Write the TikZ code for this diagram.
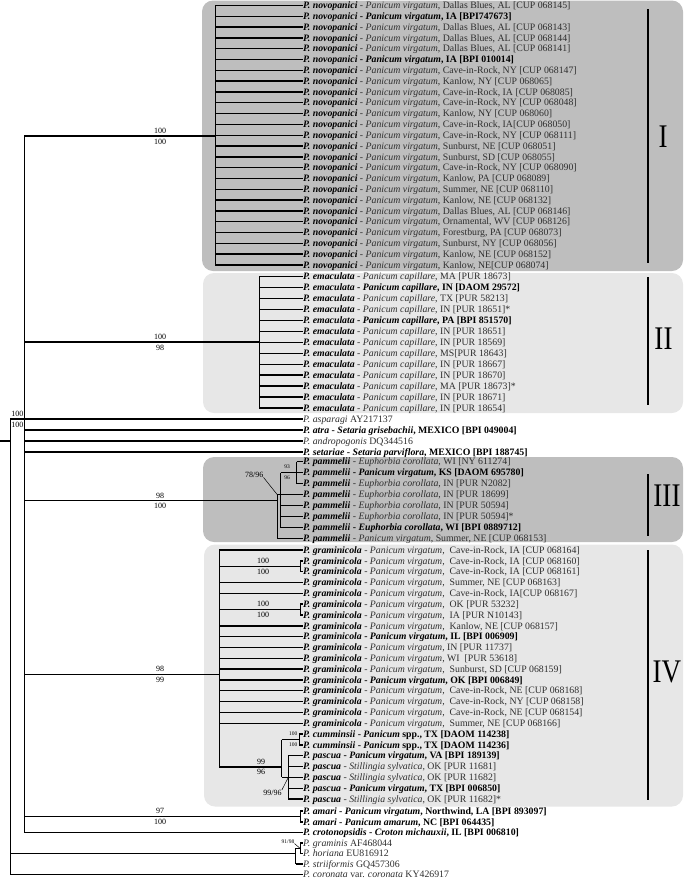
\documentclass[tikz,border=0pt]{standalone}
\usepackage{fontspec}
\setmainfont{Liberation Serif}
\usepackage{graphicx}
\usepackage{tikz}
\usetikzlibrary{positioning}

\definecolor{cladedark}{gray}{0.745}
\definecolor{cladelight}{gray}{0.905}
\definecolor{txtgray}{gray}{0.18}

\tikzset{
    % shaded background of a clade
    cladebox/.style={rounded corners=11pt},
    % terminal labels, text starts right at the branch tip
    taxon/.style={anchor=west, inner sep=0pt, text height=6.4pt, text depth=0pt,
        font=\fontsize{9.8}{10}\selectfont},
    % horizontal branches (thick) and vertical connectors (thin)
    branch/.style={line width=1.4pt},
    vline/.style={line width=0.7pt},
    % support values on the branches
    supp/.style={inner sep=0pt, font=\fontsize{8}{8}\selectfont},
    suppsmall/.style={inner sep=0pt, font=\fontsize{5.5}{6}\selectfont},
    pointer/.style={line width=0.5pt},
    % clade bars and roman numerals
    cladebar/.style={line width=2.4pt},
    cladenum/.style={inner sep=0pt, font=\fontsize{33}{33}\selectfont},
}
% taxon labels: plain (species bold), all bold, outgroup
\newcommand{\taxn}[3]{\textbf{\textit{#1}} \textcolor{txtgray}{- \textit{#2}, #3}}
\newcommand{\taxb}[3]{\textbf{\textit{#1} - \textit{#2}, #3}}
\newcommand{\taxo}[2]{\textcolor{txtgray}{\textit{#1} #2}}
\newcommand{\novo}[1]{\taxn{P. novopanici}{Panicum virgatum}{#1}}
\newcommand{\novob}[1]{\taxb{P. novopanici}{Panicum virgatum}{#1}}
\newcommand{\emac}[1]{\taxn{P. emaculata}{Panicum capillare}{#1}}
\newcommand{\emacb}[1]{\taxb{P. emaculata}{Panicum capillare}{#1}}
\newcommand{\pamm}[2]{\taxn{P. pammelii}{#1}{#2}}
\newcommand{\gramin}[1]{\taxn{P. graminicola}{Panicum virgatum}{#1}}
\newcommand{\cumm}[1]{\textbf{\textit{P. cumminsii} - \textit{Panicum} spp., TX [DAOM #1]}}
\newcommand{\cladeno}[1]{\scalebox{0.82}[1]{#1}}

\begin{document}
\begin{tikzpicture}[x=1pt, y=-1pt]
    \useasboundingbox (0,0) rectangle (685,879);

    % ---- clade shading ----
    \fill[cladedark, cladebox]  (202,0.5) rectangle (683,271);
    \fill[cladelight, cladebox] (203,273) rectangle (683,413);
    \fill[cladedark, cladebox]  (203,457) rectangle (683,542);
    \fill[cladelight, cladebox] (204,544.5) rectangle (683,806.5);

    % ---- internal nodes ----
    \coordinate (base) at (0,441);
    \coordinate (root) at (10,441);
    \coordinate (nA)   at (24,419);
    \coordinate (nI)   at (215,136);
    \coordinate (nII)  at (259,342);
    \coordinate (nIII) at (277.3,500.7);
    \coordinate (nB)   at (280.7,494.7);
    \coordinate (nC)   at (296.7,472.7);
    \coordinate (nIV)  at (219,674.5);
    \coordinate (nP1)  at (300,566.25);
    \coordinate (nP2)  at (300,609.6);
    \coordinate (nD)   at (281.7,767);
    \coordinate (nCu)  at (299,739.5);
    \coordinate (nPa)  at (288.3,777.4);
    \coordinate (nAm)  at (300,816.5);
    \coordinate (nG)   at (295.7,853.5);
    \coordinate (nGH)  at (300,848.25);

    % ---- clade I ----
    \foreach \lab [count=\i from 0] in {
        {\novo{Dallas Blues, AL [CUP 068145]}}, {\novob{IA [BPI747673]}},
        {\novo{Dallas Blues, AL [CUP 068143]}}, {\novo{Dallas Blues, AL [CUP 068144]}},
        {\novo{Dallas Blues, AL [CUP 068141]}}, {\novob{IA [BPI 010014]}},
        {\novo{Cave-in-Rock, NY [CUP 068147]}}, {\novo{Kanlow, NY [CUP 068065]}},
        {\novo{Cave-in-Rock, IA [CUP 068085]}}, {\novo{Cave-in-Rock, NY [CUP 068048]}},
        {\novo{Kanlow, NY [CUP 068060]}}, {\novo{Cave-in-Rock, IA[CUP 068050]}},
        {\novo{Cave-in-Rock, NY [CUP 068111]}}, {\novo{Sunburst, NE [CUP 068051]}},
        {\novo{Sunburst, SD [CUP 068055]}}, {\novo{Cave-in-Rock, NY [CUP 068090]}},
        {\novo{Kanlow, PA [CUP 068089]}}, {\novo{Summer, NE [CUP 068110]}},
        {\novo{Kanlow, NE [CUP 068132]}}, {\novo{Dallas Blues, AL [CUP 068146]}},
        {\novo{Ornamental, WV [CUP 068126]}}, {\novo{Forestburg, PA [CUP 068073]}},
        {\novo{Sunburst, NY [CUP 068056]}}, {\novo{Kanlow, NE [CUP 068152]}},
        {\novo{Kanlow, NE[CUP 068074]}}}{
        \node[taxon] (I\i) at (303,5.5+\i*10.81) {\lab};
        \draw[branch] (nI |- I\i.west) -- (I\i.west);
    }
    \draw[vline] (nI |- I0.west) -- (nI |- I24.west);

    % ---- clade II ----
    \foreach \lab [count=\i from 0] in {
        {\emac{MA [PUR 18673]}}, {\emacb{IN [DAOM 29572]}}, {\emac{TX [PUR 58213]}},
        {\emac{IN [PUR 18651]*}}, {\emacb{PA [BPI 851570]}}, {\emac{IN [PUR 18651]}},
        {\emac{IN [PUR 18569]}}, {\emac{MS[PUR 18643]}}, {\emac{IN [PUR 18667]}},
        {\emac{IN [PUR 18670]}}, {\emac{MA [PUR 18673]*}}, {\emac{IN [PUR 18671]}},
        {\emac{IN [PUR 18654]}}}{
        \node[taxon] (II\i) at (303,276.7+\i*10.94) {\lab};
        \draw[branch] (nII |- II\i.west) -- (II\i.west);
    }
    \draw[vline] (nII |- II0.west) -- (nII |- II12.west);

    % ---- single lineages ----
    \node[taxon] (asp)  at (303,419) {\taxo{P. asparagi}{AY217137}};
    \node[taxon] (atra) at (303,430) {\taxb{P. atra}{Setaria grisebachii}{MEXICO [BPI 049004]}};
    \node[taxon] (andr) at (303,441) {\taxo{P. andropogonis}{DQ344516}};
    \node[taxon] (set)  at (303,452) {\taxb{P. setariae}{Setaria parviflora}{MEXICO [BPI 188745]}};
    \draw[branch] (root |- asp.west) -- (asp.west);
    \foreach \t in {atra,andr,set}{ \draw[branch] (nA |- \t.west) -- (\t.west); }

    % ---- clade III ----
    \foreach \lab [count=\i from 0] in {
        {\pamm{Euphorbia corollata}{WI [NY 611274]}},
        {\taxb{P. pammelii}{Panicum virgatum}{KS [DAOM 695780]}},
        {\pamm{Euphorbia corollata}{IN [PUR N2082]}},
        {\pamm{Euphorbia corollata}{IN [PUR 18699]}},
        {\pamm{Euphorbia corollata}{IN [PUR 50594]}},
        {\pamm{Euphorbia corollata}{IN [PUR 50594]*}},
        {\taxb{P. pammelii}{Euphorbia corollata}{WI [BPI 0889712]}},
        {\pamm{Panicum virgatum}{Summer, NE [CUP 068153]}}}{
        \node[taxon] (III\i) at (303,461.7+\i*11) {\lab};
    }
    \foreach \i in {0,1,2}{ \draw[branch] (nC |- III\i.west) -- (III\i.west); }
    \foreach \i in {3,4,5,6}{ \draw[branch] (nB |- III\i.west) -- (III\i.west); }
    \draw[branch] (nIII |- III7.west) -- (III7.west);
    \draw[branch] (nIII |- nB) -- (nB);
    \draw[branch] (nB |- nC) -- (nC);
    \draw[vline] (nC |- III0.west) -- (nC |- III2.west);
    \draw[vline] (nB |- III1.west) -- (nB |- III6.west);
    \draw[vline] (nIII |- nB) -- (nIII |- III7.west);

    % ---- clade IV ----
    \foreach \lab [count=\i from 0] in {
        {\gramin{~Cave-in-Rock, IA [CUP 068164]}}, {\gramin{~Cave-in-Rock, IA [CUP 068160]}},
        {\gramin{~Cave-in-Rock, IA [CUP 068161]}}, {\gramin{~Summer, NE [CUP 068163]}},
        {\gramin{~Cave-in-Rock, IA[CUP 068167]}}, {\gramin{~OK [PUR 53232]}},
        {\gramin{~IA [PUR N10143]}}, {\gramin{~Kanlow, NE [CUP 068157]}},
        {\taxb{P. graminicola}{Panicum virgatum}{IL [BPI 006909]}},
        {\gramin{IN [PUR 11737]}}, {\gramin{WI~ [PUR 53618]}},
        {\gramin{~Sunburst, SD [CUP 068159]}},
        {\taxb{P. graminicola}{Panicum virgatum}{OK [BPI 006849]}},
        {\gramin{~Cave-in-Rock, NE [CUP 068168]}}, {\gramin{~Cave-in-Rock, NY [CUP 068158]}},
        {\gramin{~Cave-in-Rock, NE [CUP 068154]}}, {\gramin{~Summer, NE [CUP 068166]}},
        {\cumm{114238}}, {\cumm{114236}},
        {\taxb{P. pascua}{Panicum virgatum}{VA [BPI 189139]}},
        {\taxn{P. pascua}{Stillingia sylvatica}{OK [PUR 11681]}},
        {\taxn{P. pascua}{Stillingia sylvatica}{OK [PUR 11682]}},
        {\taxb{P. pascua}{Panicum virgatum}{TX [BPI 006850]}},
        {\taxn{P. pascua}{Stillingia sylvatica}{OK [PUR 11682]*}}}{
        \node[taxon] (IV\i) at (303,550+\i*10.83) {\lab};
    }
    \foreach \i in {0,3,4,7,8,9,10,11,12,13,14,15,16}{
        \draw[branch] (nIV |- IV\i.west) -- (IV\i.west); }
    \foreach \i in {1,2}{ \draw[branch] (nP1 |- IV\i.west) -- (IV\i.west); }
    \foreach \i in {5,6}{ \draw[branch] (nP2 |- IV\i.west) -- (IV\i.west); }
    \foreach \i in {17,18}{ \draw[branch] (nCu |- IV\i.west) -- (IV\i.west); }
    \foreach \i in {19,...,23}{ \draw[branch] (nPa |- IV\i.west) -- (IV\i.west); }
    \foreach \n in {nP1,nP2,nD}{ \draw[branch] (nIV |- \n) -- (\n); }
    \draw[branch] (nD |- nCu) -- (nCu);
    \draw[branch] (nD |- nPa) -- (nPa);
    \draw[vline] (nIV |- IV0.west) -- (nIV |- nD);
    \draw[vline] (nP1 |- IV1.west) -- (nP1 |- IV2.west);
    \draw[vline] (nP2 |- IV5.west) -- (nP2 |- IV6.west);
    \draw[vline] (nCu |- IV17.west) -- (nCu |- IV18.west);
    \draw[vline] (nPa |- IV19.west) -- (nPa |- IV23.west);
    \draw[vline] (nD |- nCu) -- (nD |- nPa);

    % ---- lower lineages ----
    \node[taxon] (am1)  at (303,811) {\taxb{P. amari}{Panicum virgatum}{Northwind, LA [BPI 893097]}};
    \node[taxon] (am2)  at (303,822) {\taxb{P. amari}{Panicum amarum}{NC [BPI 064435]}};
    \node[taxon] (crot) at (303,832.5) {\taxb{P. crotonopsidis}{Croton michauxii}{IL [BPI 006810]}};
    \node[taxon] (gmn)  at (303,843) {\taxo{P. graminis}{AF468044}};
    \node[taxon] (hor)  at (303,853.5) {\taxo{P. horiana}{EU816912}};
    \node[taxon] (str)  at (303,864) {\taxo{P. striiformis}{GQ457306}};
    \node[taxon] (cor)  at (303,874.5) {\textcolor{txtgray}{\textit{P. coronata} var. \textit{coronata} KY426917}};
    \foreach \t in {am1,am2}{ \draw[branch] (nAm |- \t.west) -- (\t.west); }
    \foreach \t in {gmn,hor}{ \draw[branch] (nGH |- \t.west) -- (\t.west); }
    \draw[branch] (nA |- nAm) -- (nAm);
    \draw[branch] (nA |- crot.west) -- (crot.west);
    \draw[branch] (nG |- nGH) -- (nGH);
    \draw[branch] (nG |- str.west) -- (str.west);
    \draw[branch] (root |- nG) -- (nG);
    \draw[branch] (root |- cor.west) -- (cor.west);
    \draw[vline] (nAm |- am1.west) -- (nAm |- am2.west);
    \draw[vline] (nGH |- gmn.west) -- (nGH |- hor.west);
    \draw[vline] (nG |- nGH) -- (nG |- str.west);

    % ---- backbone ----
    \draw[branch] (base) -- (root);
    \draw[vline] (root |- asp.west) -- (root |- cor.west);
    \draw[vline] (nA |- nI) -- (nA |- crot.west);
    \draw[branch] (nA |- nI) -- (nI);
    \draw[branch] (nA |- nII) -- (nII);
    \draw[branch] (nA |- nIII) -- (nIII);
    \draw[branch] (nA |- nIV) -- (nIV);

    % ---- support values ----
    \node[supp] at (17.5,413.5) {100};
    \node[supp] at (17.5,424.5) {100};
    \node[supp] at (160,131) {100};
    \node[supp] at (160,141.5) {100};
    \node[supp] at (160,337) {100};
    \node[supp] at (160,347.5) {98};
    \node[supp] at (160,495.5) {98};
    \node[supp] at (160,506) {100};
    \node[supp] at (160,669) {98};
    \node[supp] at (160,679.5) {99};
    \node[supp] at (160,811) {97};
    \node[supp] at (160,821.5) {100};
    \node[supp] at (263,560.8) {100};
    \node[supp] at (263,571.7) {100};
    \node[supp] at (263,604.2) {100};
    \node[supp] at (263,615) {100};
    \node[supp] at (261,761.5) {99};
    \node[supp] at (261,772) {96};
    \node[suppsmall] at (287,466.5) {93};
    \node[suppsmall] at (287,477.5) {96};
    \node[suppsmall, anchor=east] at (297.5,734.1) {100};
    \node[suppsmall, anchor=east] at (297.5,744.9) {100};
    \node[supp] (l7896) at (254.2,474.5) {78/96};
    \draw[pointer] (l7896.south east) -- (nIII |- nB);
    \node[supp] (l9996) at (272.5,793) {99/96};
    \draw[pointer] (l9996.north east) -- (nPa);
    \node[suppsmall] (l9198) at (288,841.5) {91/98};
    \draw[pointer] (l9198.south east) -- (nGH);

    % ---- clade bars ----
    \draw[cladebar] (647.7,9) -- (647.7,263);
    \draw[cladebar] (647.7,277) -- (647.7,405);
    \draw[cladebar] (647.7,474) -- (647.7,536);
    \draw[cladebar] (647.7,550) -- (647.7,800);
    \node[cladenum] (cI)   at (663,137) {\cladeno{I}};
    \node[cladenum] (cII)  at (663.5,339) {\cladeno{II}};
    \node[cladenum] (cIII) at (667,496) {\cladeno{III}};
    \node[cladenum] (cIV)  at (667,672) {\cladeno{IV}};

\end{tikzpicture}
\end{document}
